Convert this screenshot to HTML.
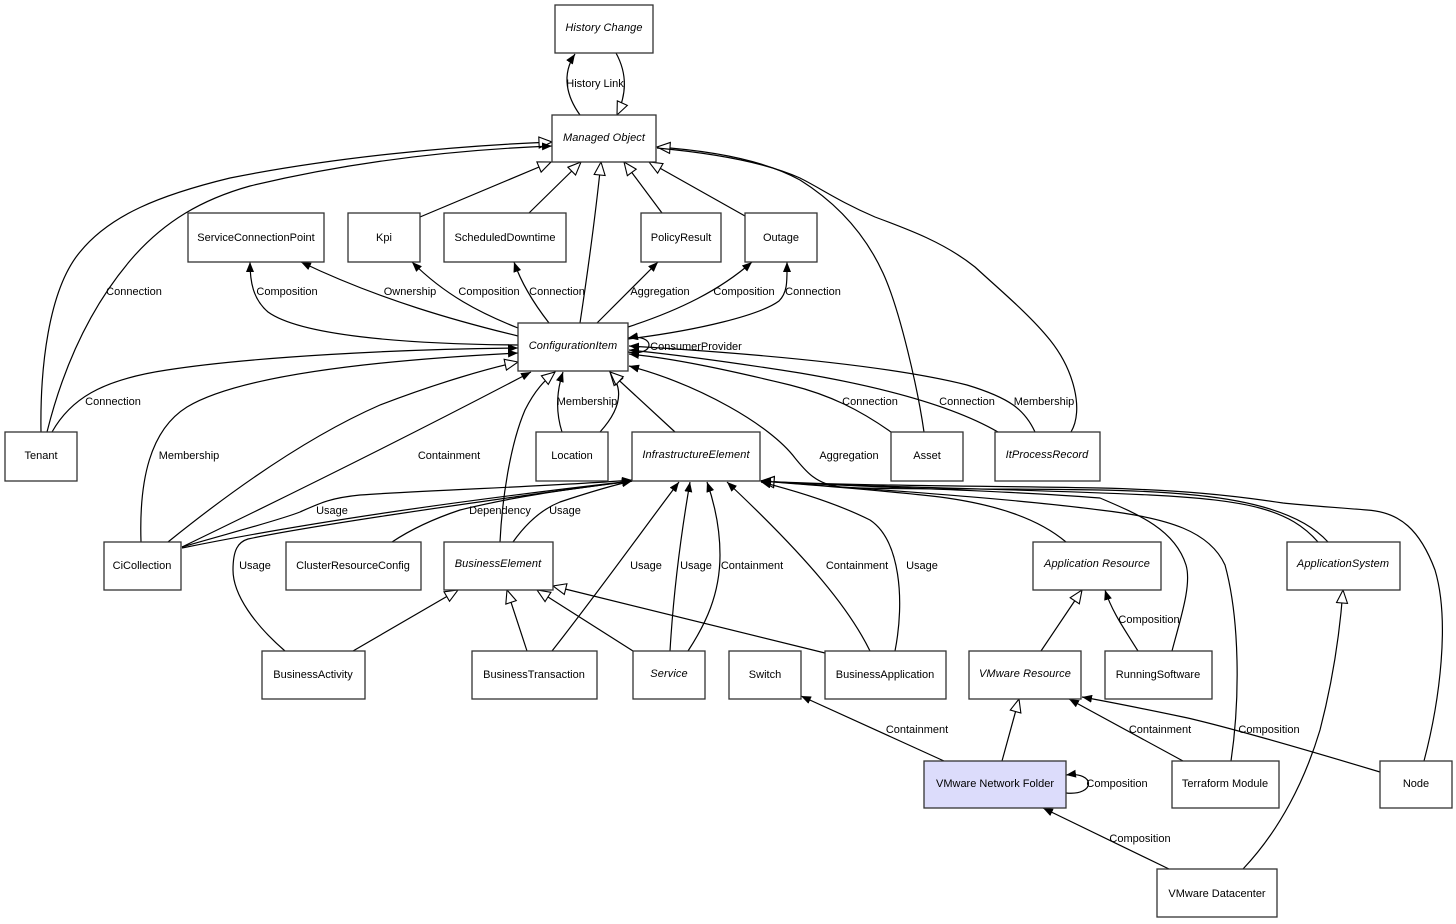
<!DOCTYPE html>
<html>
<head>
<meta charset="utf-8">
<style>
html,body{margin:0;padding:0;background:#fff;}
svg{display:block;}
text{font-family:"Liberation Sans",Arial,sans-serif;font-size:11px;fill:#000;}
.n{fill:#fff;stroke:#333;stroke-width:1.3;}
.it{font-style:italic;letter-spacing:0.1px;}
.e{fill:none;stroke:#000;stroke-width:1.2;}
</style>
</head>
<body>
<svg width="1456" height="924" viewBox="0 0 1456 924" xmlns="http://www.w3.org/2000/svg">
<defs>
<marker id="f" viewBox="0 0 10 8" refX="10" refY="4" markerWidth="10" markerHeight="8" markerUnits="userSpaceOnUse" orient="auto">
<path d="M0,0 L10,4 L0,8 z" fill="#000"/>
</marker>
<marker id="h" viewBox="-1 -1 15 13" refX="13" refY="5.5" markerWidth="15" markerHeight="13" markerUnits="userSpaceOnUse" orient="auto">
<path d="M0,0 L13,5.5 L0,11 z" fill="#fff" stroke="#000" stroke-width="1.1"/>
</marker>
</defs>

<!-- ===== EDGES ===== -->
<g class="e">
<!-- History -->
<path d="M580,115 C567,97 561,75 575,54" marker-end="url(#f)"/>
<path d="M616,53 C628,75 626,95 617,115" marker-end="url(#h)"/>

<!-- generalizations to Managed Object -->
<path d="M420,217 L551,162" marker-end="url(#h)"/>
<path d="M529,213 L581,162" marker-end="url(#h)"/>
<path d="M580,323 C588,270 596,210 601,162" marker-end="url(#h)"/>
<path d="M662,213 L624,162" marker-end="url(#h)"/>
<path d="M745,216 L649,162" marker-end="url(#h)"/>

<!-- Tenant to MO -->
<path d="M41,432 C40,370 48,290 80,252 C110,215 160,195 230,178 C330,158 450,146 552,142" marker-end="url(#h)"/>
<path d="M47,432 C65,360 95,300 135,255 C165,222 200,200 250,186 C350,162 450,150 552,146" marker-end="url(#f)"/>

<!-- Asset / ItProcessRecord to MO -->
<path d="M924,432 C918,390 900,310 883,273 C866,236 840,205 800,180 C760,158 700,150 657,147" marker-end="url(#h)"/>
<path d="M1071,432 C1084,410 1074,370 1050,340 C1030,315 1000,290 975,267 C945,243 910,230 875,217 C840,202 820,188 800,178 C760,160 700,152 657,148"/>

<!-- CI upward associations -->
<path d="M518,345 C400,344 300,335 268,312 C253,299 250,282 250,262" marker-end="url(#f)"/>
<path d="M518,336 C460,322 380,300 301,262" marker-end="url(#f)"/>
<path d="M518,328 C480,313 445,295 412,262" marker-end="url(#f)"/>
<path d="M549,323 C535,305 522,285 514,262" marker-end="url(#f)"/>
<path d="M597,323 L658,262" marker-end="url(#f)"/>
<path d="M628,327 C680,310 720,290 752,262" marker-end="url(#f)"/>
<path d="M628,339 C700,330 760,315 779,301 C788,292 787,280 787,262" marker-end="url(#f)"/>
<path d="M628,352 C656,357 656,333 628,338" marker-end="url(#f)"/>

<!-- into CI from left -->
<path d="M52,432 C70,400 100,380 167,370 C250,357 400,349 518,348" marker-end="url(#f)"/>
<path d="M141,542 C139,480 150,430 187,407 C240,375 380,360 518,353" marker-end="url(#f)"/>
<path d="M168,542 C220,500 300,440 380,405 C440,382 490,368 518,362" marker-end="url(#h)"/>
<path d="M182,547 C300,490 430,425 531,372" marker-end="url(#f)"/>

<!-- into IE from left -->
<path d="M182,547 C230,533 280,520 300,512 C320,503 330,498 360,495 C430,490 560,486 632,480" marker-end="url(#f)"/>
<path d="M182,548 C280,528 420,505 632,481" marker-end="url(#f)"/>
<path d="M392,542 C410,530 430,520 460,510 C520,495 580,488 632,481" marker-end="url(#f)"/>
<path d="M285,651 C255,625 233,595 233,570 C233,550 238,542 248,539 C300,528 450,505 632,481" marker-end="url(#f)"/>
<path d="M513,542 C525,525 540,510 560,502 C590,492 610,486 632,481" marker-end="url(#f)"/>

<!-- BE gen to CI -->
<path d="M500,542 C502,500 510,445 525,410 C535,390 545,380 555,372" marker-end="url(#h)"/>
<!-- Location -->
<path d="M562,432 C555,410 557,390 563,372" marker-end="url(#f)"/>
<path d="M600,432 C620,410 625,390 610,372" marker-end="url(#h)"/>
<!-- IE gen -->
<path d="M675,432 L610,372" marker-end="url(#h)"/>

<!-- into CI from right -->
<path d="M891,432 C860,410 830,395 790,385 C720,368 670,358 629,354" marker-end="url(#f)"/>
<path d="M998,432 C960,410 900,390 800,373 C730,362 670,354 629,350" marker-end="url(#f)"/>
<path d="M1035,432 C1025,410 1010,398 967,385 C900,368 780,355 629,346" marker-end="url(#f)"/>
<path d="M1328,542 C1290,500 1200,492 1100,490 C1000,488 880,490 840,487 C815,484 805,470 795,458 C770,425 700,385 629,366" marker-end="url(#f)"/>

<!-- into IE from right -->
<path d="M1318,542 C1290,510 1250,500 1150,495 C1000,488 850,487 761,481" marker-end="url(#h)"/>
<path d="M1424,761 C1440,700 1450,620 1435,570 C1420,530 1400,512 1367,510 C1330,507 1300,505 1283,503 C1230,495 1180,490 1100,488 C1000,486 850,486 761,481" marker-end="url(#f)"/>
<path d="M1066,542 C1040,520 1000,505 940,497 C880,490 820,486 761,481" marker-end="url(#h)"/>
<path d="M1172,651 C1180,620 1192,585 1186,565 C1175,530 1140,515 1100,498 C1000,490 850,487 761,481" marker-end="url(#f)"/>
<path d="M1231,761 C1240,700 1240,620 1225,565 C1210,532 1170,518 1100,510 C1000,497 850,488 761,481" marker-end="url(#f)"/>
<path d="M895,651 C905,600 900,540 870,520 C840,505 800,492 761,482" marker-end="url(#f)"/>

<!-- from below into IE -->
<path d="M870,651 C850,610 810,560 727,482" marker-end="url(#f)"/>
<path d="M670,651 C673,600 680,540 690,482" marker-end="url(#f)"/>
<path d="M688,651 C705,625 720,595 720,555 C720,530 715,505 707,482" marker-end="url(#f)"/>
<path d="M552,651 C600,590 650,520 679,482" marker-end="url(#f)"/>

<!-- generalizations to BusinessElement -->
<path d="M353,651 L458,590" marker-end="url(#h)"/>
<path d="M527,651 L507,590" marker-end="url(#h)"/>
<path d="M633,651 L537,590" marker-end="url(#h)"/>
<path d="M825,653 L553,586" marker-end="url(#h)"/>

<!-- right lower area -->
<path d="M1041,651 L1082,590" marker-end="url(#h)"/>
<path d="M1138,651 C1125,630 1112,612 1105,590" marker-end="url(#f)"/>
<path d="M1002,761 L1019,699" marker-end="url(#h)"/>
<path d="M944,761 L801,696" marker-end="url(#f)"/>
<path d="M1183,761 L1069,699" marker-end="url(#f)"/>
<path d="M1380,772 C1300,748 1220,725 1183,717 C1140,708 1110,702 1082,697" marker-end="url(#f)"/>
<path d="M1066,793 C1096,796 1096,771 1066,775" marker-end="url(#f)"/>
<path d="M1169,869 L1043,808" marker-end="url(#f)"/>
<path d="M1243,869 C1280,830 1305,780 1320,730 C1333,680 1340,630 1343,590" marker-end="url(#h)"/>
</g>

<!-- ===== NODES ===== -->
<g>
<rect class="n" x="555" y="5" width="98" height="48"/>
<text class="it" x="604" y="31" text-anchor="middle">History Change</text>

<rect class="n" x="552" y="115" width="104" height="47"/>
<text class="it" x="604" y="141" text-anchor="middle">Managed Object</text>

<rect class="n" x="188" y="213" width="136" height="49"/>
<text x="256" y="241" text-anchor="middle">ServiceConnectionPoint</text>

<rect class="n" x="348" y="213" width="72" height="49"/>
<text x="384" y="241" text-anchor="middle">Kpi</text>

<rect class="n" x="444" y="213" width="122" height="49"/>
<text x="505" y="241" text-anchor="middle">ScheduledDowntime</text>

<rect class="n" x="641" y="213" width="80" height="49"/>
<text x="681" y="241" text-anchor="middle">PolicyResult</text>

<rect class="n" x="745" y="213" width="72" height="49"/>
<text x="781" y="241" text-anchor="middle">Outage</text>

<rect class="n" x="518" y="323" width="110" height="48"/>
<text class="it" x="573" y="349" text-anchor="middle">ConfigurationItem</text>

<rect class="n" x="5" y="432" width="72" height="49"/>
<text x="41" y="459" text-anchor="middle">Tenant</text>

<rect class="n" x="536" y="432" width="72" height="49"/>
<text x="572" y="459" text-anchor="middle">Location</text>

<rect class="n" x="632" y="432" width="128" height="49"/>
<text class="it" x="696" y="458" text-anchor="middle">InfrastructureElement</text>

<rect class="n" x="891" y="432" width="72" height="49"/>
<text x="927" y="459" text-anchor="middle">Asset</text>

<rect class="n" x="995" y="432" width="105" height="49"/>
<text class="it" x="1047" y="458" text-anchor="middle">ItProcessRecord</text>

<rect class="n" x="104" y="542" width="77" height="48"/>
<text x="142" y="569" text-anchor="middle">CiCollection</text>

<rect class="n" x="286" y="542" width="135" height="48"/>
<text x="353" y="569" text-anchor="middle">ClusterResourceConfig</text>

<rect class="n" x="444" y="542" width="109" height="48"/>
<text class="it" x="498" y="567" text-anchor="middle">BusinessElement</text>

<rect class="n" x="1033" y="542" width="128" height="48"/>
<text class="it" x="1097" y="567" text-anchor="middle">Application Resource</text>

<rect class="n" x="1287" y="542" width="113" height="48"/>
<text class="it" x="1343" y="567" text-anchor="middle">ApplicationSystem</text>

<rect class="n" x="262" y="651" width="103" height="48"/>
<text x="313" y="678" text-anchor="middle">BusinessActivity</text>

<rect class="n" x="472" y="651" width="125" height="48"/>
<text x="534" y="678" text-anchor="middle">BusinessTransaction</text>

<rect class="n" x="633" y="651" width="72" height="48"/>
<text class="it" x="669" y="677" text-anchor="middle">Service</text>

<rect class="n" x="729" y="651" width="72" height="48"/>
<text x="765" y="678" text-anchor="middle">Switch</text>

<rect class="n" x="825" y="651" width="121" height="48"/>
<text x="885" y="678" text-anchor="middle">BusinessApplication</text>

<rect class="n" x="969" y="651" width="112" height="48"/>
<text class="it" x="1025" y="677" text-anchor="middle">VMware Resource</text>

<rect class="n" x="1105" y="651" width="107" height="48"/>
<text x="1158" y="678" text-anchor="middle">RunningSoftware</text>

<rect class="n" x="924" y="761" width="142" height="47" style="fill:#dcdcfb"/>
<text x="995" y="787" text-anchor="middle">VMware Network Folder</text>

<rect class="n" x="1172" y="761" width="107" height="47"/>
<text x="1225" y="787" text-anchor="middle">Terraform Module</text>

<rect class="n" x="1380" y="761" width="72" height="47"/>
<text x="1416" y="787" text-anchor="middle">Node</text>

<rect class="n" x="1157" y="869" width="120" height="48"/>
<text x="1217" y="897" text-anchor="middle">VMware Datacenter</text>
</g>

<!-- ===== EDGE LABELS ===== -->
<g text-anchor="middle">
<text x="595" y="87">History Link</text>
<text x="134" y="295">Connection</text>
<text x="287" y="295">Composition</text>
<text x="410" y="295">Ownership</text>
<text x="489" y="295">Composition</text>
<text x="557" y="295">Connection</text>
<text x="660" y="295">Aggregation</text>
<text x="744" y="295">Composition</text>
<text x="813" y="295">Connection</text>
<text x="696" y="350">ConsumerProvider</text>
<text x="113" y="405">Connection</text>
<text x="587" y="405">Membership</text>
<text x="870" y="405">Connection</text>
<text x="967" y="405">Connection</text>
<text x="1044" y="405">Membership</text>
<text x="189" y="459">Membership</text>
<text x="449" y="459">Containment</text>
<text x="849" y="459">Aggregation</text>
<text x="332" y="514">Usage</text>
<text x="500" y="514">Dependency</text>
<text x="565" y="514">Usage</text>
<text x="255" y="569">Usage</text>
<text x="646" y="569">Usage</text>
<text x="696" y="569">Usage</text>
<text x="752" y="569">Containment</text>
<text x="857" y="569">Containment</text>
<text x="922" y="569">Usage</text>
<text x="1149" y="623">Composition</text>
<text x="917" y="733">Containment</text>
<text x="1160" y="733">Containment</text>
<text x="1269" y="733">Composition</text>
<text x="1117" y="787">Composition</text>
<text x="1140" y="842">Composition</text>
</g>
</svg>
</body>
</html>
